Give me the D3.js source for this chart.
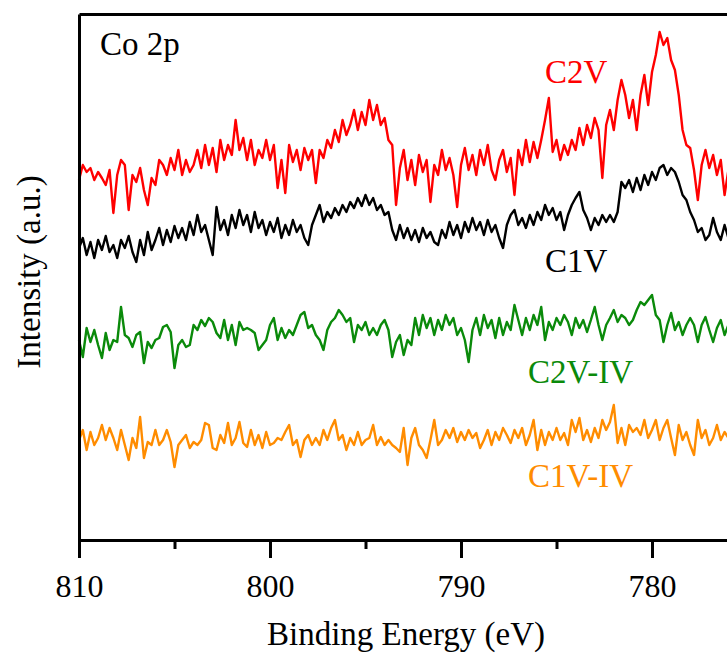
<!DOCTYPE html>
<html lang="en">
<head>
    <meta charset="UTF-8">
    <title>Co 2p XPS</title>
    <script src="https://d3js.org/d3.v7.min.js"></script>
    <style>
        body {
            margin: 0;
            background: #fff;
        }
        svg, svg text, .axis text {
            font-family: "Liberation Serif", "Times New Roman", Times, "DejaVu Serif", serif;
        }
        .axis path, .axis line {
            stroke: #000;
            stroke-width: 3;
        }
        .axis text {
            font-size: 32px;
            fill: #000;
        }
        .spec {
            fill: none;
            stroke-width: 2.4;
            stroke-linejoin: round;
        }
    </style>
</head>
<body>
<svg width="727" height="658"></svg>
<script>
    // energy grid of the scan (eV), 0.2 eV step from 810 down
    const energyStart = 810;
    const energyStep = 0.2;

    // intensities (a.u., offset stacked as in the figure)
    const c2v = [
        360,375,368,372,360,368,362,355,370,327,
        365,380,375,330,365,358,372,350,335,362,
        355,380,375,365,382,370,390,365,380,368,
        375,390,372,395,375,392,368,400,380,395,
        385,420,390,402,380,400,375,390,382,400,
        380,395,352,380,347,395,378,390,370,392,
        380,390,357,390,382,400,392,410,398,420,
        405,415,430,410,428,415,440,420,435,415,
        422,400,395,335,372,390,360,380,355,385,
        368,380,338,375,365,390,370,382,365,333,
        375,392,370,385,365,390,375,395,370,360,
        380,390,368,382,345,390,375,400,378,398,
        382,400,420,442,388,400,380,395,385,400,
        390,412,395,415,402,422,410,362,415,430,
        410,440,460,445,422,440,410,445,465,435,
        468,485,508,495,502,480,470,445,410,395,
        392,370,340,375,390,372,385,365,380,345,370
    ];
    const c1v = [
        292,302,285,298,282,300,290,304,288,295,
        282,300,292,304,288,278,300,285,308,290,
        300,312,295,310,298,314,302,312,300,318,
        305,325,308,315,300,285,333,310,320,305,
        325,312,330,315,325,308,328,312,320,305,
        318,308,322,302,315,305,320,308,315,302,
        295,315,325,335,318,328,322,332,325,335,
        328,338,332,342,334,345,335,342,330,335,
        325,328,310,300,315,302,312,300,310,298,
        312,302,308,298,295,310,302,318,305,315,
        302,318,308,322,310,318,305,320,308,315,
        302,292,315,325,330,315,322,312,325,315,
        328,320,335,325,332,320,328,310,325,335,
        342,348,330,322,310,322,315,325,318,325,
        318,328,358,352,360,348,362,350,365,355,
        368,360,372,375,365,372,368,358,345,340,
        328,320,308,312,300,305,322,308,300,315,302
    ];
    const c2vIV = [
        200,183,212,198,210,195,182,207,190,200,
        198,233,205,202,193,205,208,177,198,192,
        200,202,213,215,208,172,195,200,193,195,
        215,210,220,214,222,218,207,202,220,200,
        215,195,218,210,212,210,207,190,195,200,
        215,222,200,212,202,210,205,215,225,228,
        212,215,205,200,190,210,218,222,230,225,
        218,222,198,215,210,218,205,212,205,215,
        220,210,183,198,205,185,200,195,222,205,
        225,212,222,205,220,210,225,215,222,205,
        212,200,178,210,222,205,225,212,220,202,
        222,205,218,210,235,220,205,222,210,225,
        215,233,200,218,210,222,215,225,218,205,
        222,212,220,208,220,233,215,200,215,222,
        230,218,225,222,215,220,230,238,235,240,
        245,225,220,198,215,227,210,218,205,215,
        222,215,198,215,223,210,198,212,220,205,215
    ];
    const c1vIV = [
        100,110,90,108,95,102,115,100,112,102,
        90,110,95,80,102,92,123,82,98,95,
        110,95,100,110,98,73,95,100,105,92,
        98,95,100,117,115,92,90,105,97,117,
        95,102,118,97,93,110,95,105,92,108,
        95,97,102,100,108,115,95,100,83,100,
        105,95,102,95,110,100,112,120,100,105,
        90,102,95,108,95,100,102,115,95,103,
        95,100,95,92,88,112,75,102,112,95,
        90,82,100,120,95,100,110,102,112,98,
        108,100,110,102,107,92,100,110,95,108,
        100,112,105,97,110,102,112,95,105,120,
        90,110,95,108,100,112,100,107,95,120,
        108,122,100,110,98,112,102,120,110,118,
        135,97,112,95,115,108,112,105,120,102,
        110,120,100,112,120,102,85,115,100,108,
        95,85,120,102,110,95,102,115,100,108,102
    ];

    const seriesNames = ["C2V", "C1V", "C2V-IV", "C1V-IV"];
    const seriesColors = ["#ff0000", "#000000", "#0a8a0a", "#ff8c00"];
    const seriesData = [c2v, c1v, c2vIV, c1vIV];

    const majorTicks = [810, 800, 790, 780];
    const minorTicks = [805, 795, 785];

    const serif = '"Liberation Serif", "Times New Roman", Times, "DejaVu Serif", serif';

    const svg = d3.select("svg").attr("font-family", serif);
    const plotLeft = 79, plotTop = 14, plotBottom = 540;

    const x = d3.scaleLinear()
        .domain([810, 775])
        .range([plotLeft, plotLeft + 35 * 19.1]);

    const y = d3.scaleLinear()
        .domain([0, 526])
        .range([plotBottom, plotTop]);

    // lines
    const line = d3.line()
        .x((d, i) => x(energyStart - i * energyStep))
        .y(d => y(d));

    seriesData.forEach((s, k) => {
        svg.append("path")
            .datum(s)
            .attr("class", "spec")
            .attr("stroke", seriesColors[k])
            .attr("d", line);
    });

    // frame: left and top
    svg.append("g")
        .attr("class", "axis")
        .attr("transform", `translate(${plotLeft},0)`)
        .call(d3.axisLeft(y).tickValues([]).tickSizeOuter(0));

    svg.append("g")
        .attr("class", "axis")
        .attr("transform", `translate(0,${plotTop})`)
        .call(d3.axisTop(x).tickValues([]).tickSizeOuter(0));

    // bottom axis, minor then major
    svg.append("g")
        .attr("class", "axis")
        .attr("transform", `translate(0,${plotBottom})`)
        .call(d3.axisBottom(x).tickValues(minorTicks).tickSize(9).tickFormat(""))
        .select(".domain").remove();

    svg.append("g")
        .attr("class", "axis")
        .attr("transform", `translate(0,${plotBottom})`)
        .call(d3.axisBottom(x).tickValues(majorTicks).tickSize(18).tickSizeOuter(0).tickPadding(16))
        .attr("font-family", serif);

    // axis titles
    svg.append("text")
        .attr("x", 406)
        .attr("y", 645)
        .attr("text-anchor", "middle")
        .attr("font-family", serif)
        .attr("font-size", "33px")
        .text("Binding Energy (eV)");

    svg.append("text")
        .attr("transform", "translate(40,272) rotate(-90)")
        .attr("text-anchor", "middle")
        .attr("font-family", serif)
        .attr("font-size", "33px")
        .text("Intensity (a.u.)");

    svg.append("text")
        .attr("x", 100)
        .attr("y", 55)
        .attr("font-family", serif)
        .attr("font-size", "33px")
        .text("Co 2p");

    // series labels
    const labelPos = [[545, 83], [545, 272], [528, 383], [528, 487]];
    seriesNames.forEach((name, k) => {
        svg.append("text")
            .attr("x", labelPos[k][0])
            .attr("y", labelPos[k][1])
            .attr("font-family", serif)
            .attr("font-size", "33px")
            .attr("fill", seriesColors[k])
            .text(name);
    });
</script>
</body>
</html>
